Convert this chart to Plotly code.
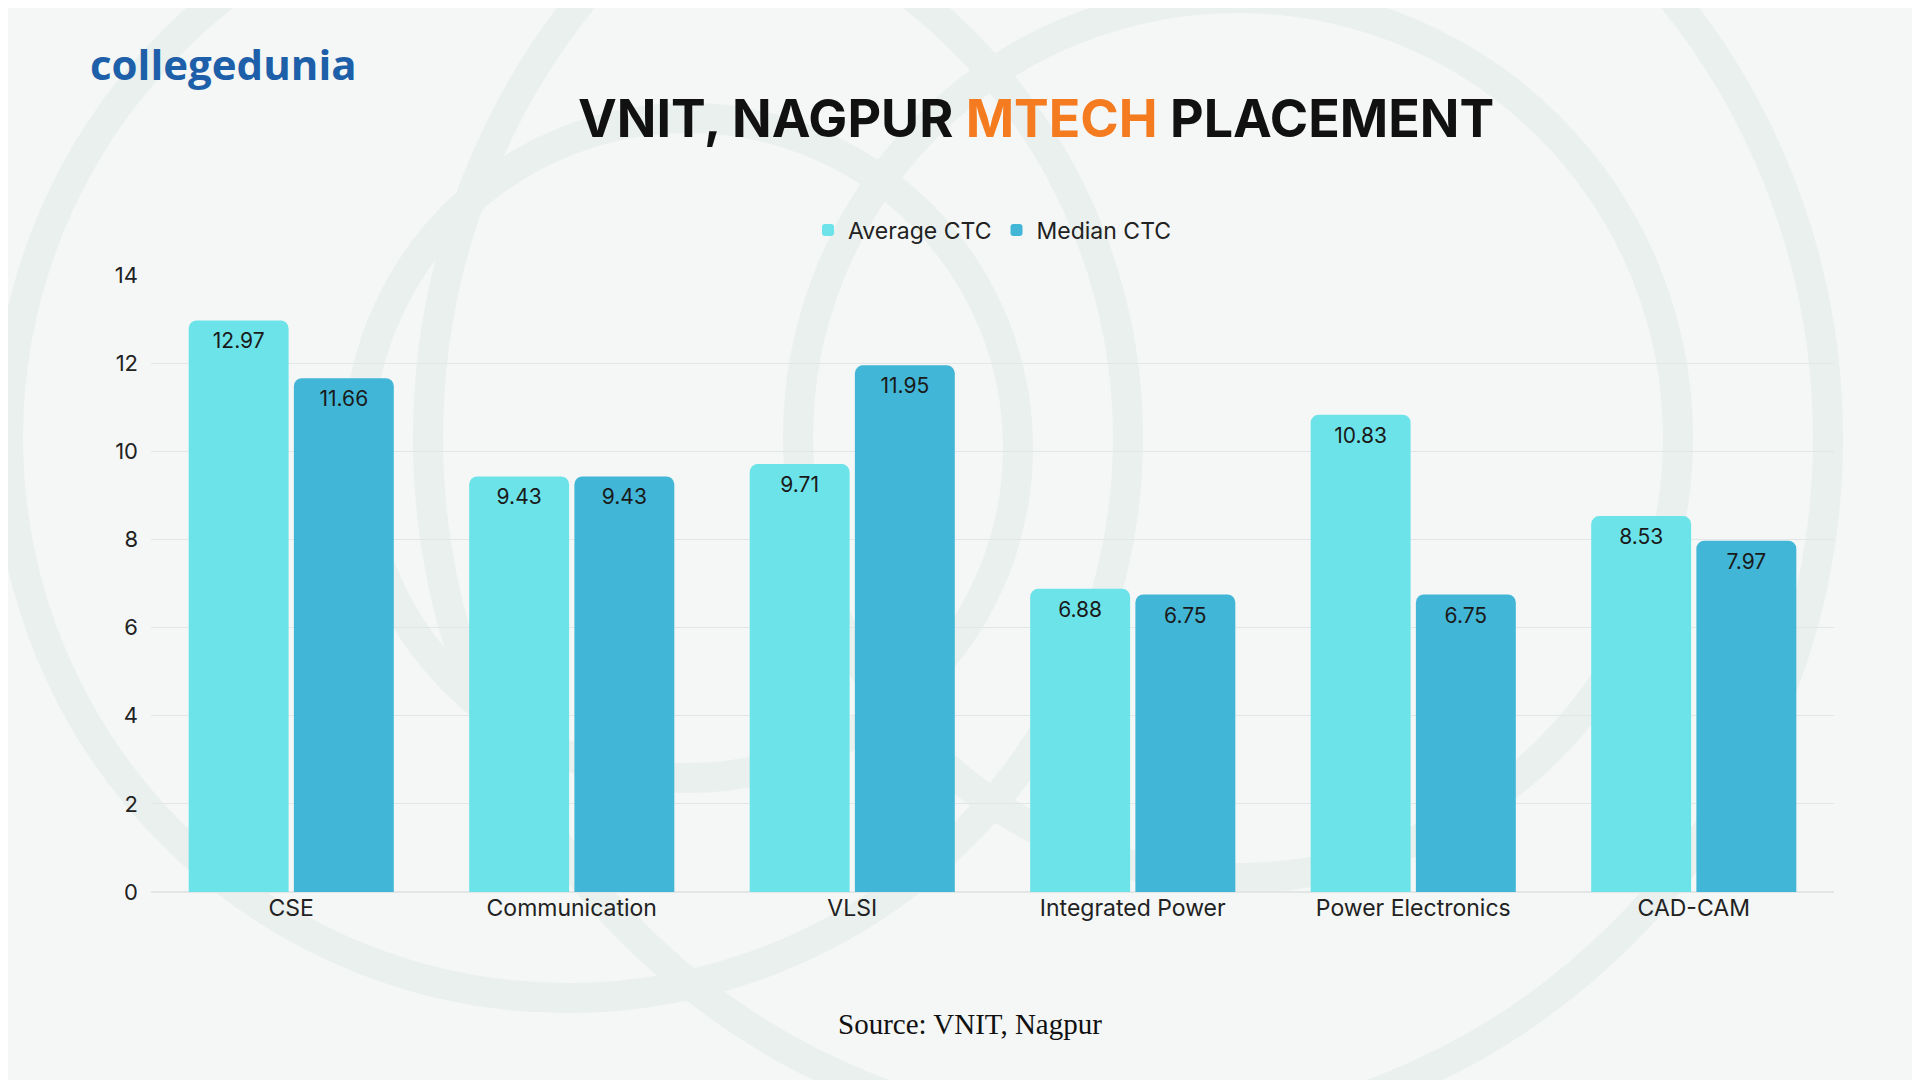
import plotly.graph_objects as go

categories = ["CSE", "Communication", "VLSI", "Integrated Power", "Power Electronics", "CAD-CAM"]
average_ctc = [12.97, 9.43, 9.71, 6.88, 10.83, 8.53]
median_ctc = [11.66, 9.43, 11.95, 6.75, 6.75, 7.97]
y_ticks = [0, 2, 4, 6, 8, 10, 12, 14]

W, H = 1920, 1080
L, R, T, B = 143, 1826, 267, 884
PW, PH = R - L, B - T
fig = go.Figure()
for name, vals, col in [("Average CTC", average_ctc, "#6ce3e8"), ("Median CTC", median_ctc, "#42b6d6")]:
    fig.add_trace(go.Bar(
        name=name, x=categories, y=vals, marker=dict(color=col, line=dict(width=0)),
        text=[f"{v:.2f}" for v in vals], textposition="inside", insidetextanchor="end",
        textangle=0, textfont=dict(family="Inter", size=21, color="#1a1a1a"),
        constraintext="none", cliponaxis=False))

def px(x): return (x - L) / PW
def py(y): return (B - y) / PH

shapes = []
for cx, cy, r in [(560, 430, 560), (680, 440, 330), (1120, 430, 700), (1230, 430, 440)]:
    shapes.append(dict(type="circle", xref="paper", yref="paper", layer="below",
                       x0=px(cx - r), x1=px(cx + r), y0=py(cy + r), y1=py(cy - r),
                       line=dict(color="#e9f0ee", width=30), fillcolor="rgba(0,0,0,0)"))

fig.update_layout(
    width=W, height=H, paper_bgcolor="#f4f7f6", plot_bgcolor="rgba(0,0,0,0)",
    margin=dict(l=L, r=W - R, t=T, b=H - B),
    barmode="group", bargap=0.25, bargroupgap=0.05, barcornerradius=8,
    font=dict(family="Inter", color="#222"),
    shapes=shapes,
    xaxis=dict(tickfont=dict(size=23, color="#222"), showline=False, ticks="", fixedrange=True),
    yaxis=dict(range=[0, 14], tickvals=y_ticks, tickfont=dict(size=22, color="#222"),
               gridcolor="#e3e6e6", zeroline=True, zerolinecolor="#e3e6e6", ticklabelstandoff=12),
    legend=dict(orientation="h", x=0.5, xanchor="center", y=py(222), yanchor="middle",
                font=dict(size=23, color="#222"), itemsizing="constant", bgcolor="rgba(0,0,0,0)"),
    annotations=[
        dict(text="<b>VNIT, NAGPUR <span style='color:#f47b20'>MTECH</span> PLACEMENT</b>",
             xref="paper", yref="paper", x=px(1028), y=py(110),
             showarrow=False, font=dict(family="Inter", size=52, color="#111"), xanchor="center", yanchor="middle"),
        dict(text="Source: VNIT, Nagpur", xref="paper", yref="paper", x=px(962),
             y=py(1016), showarrow=False, yanchor="middle",
             font=dict(family="Liberation Serif", size=29, color="#111")),
        dict(text="<b>collegedunia</b>", xref="paper", yref="paper", x=px(80),
             y=py(55), xanchor="left", yanchor="middle", showarrow=False,
             font=dict(family="Open Sans", size=42, color="#1d5fa8")),
    ],
)
fig.write_html("out.html")
